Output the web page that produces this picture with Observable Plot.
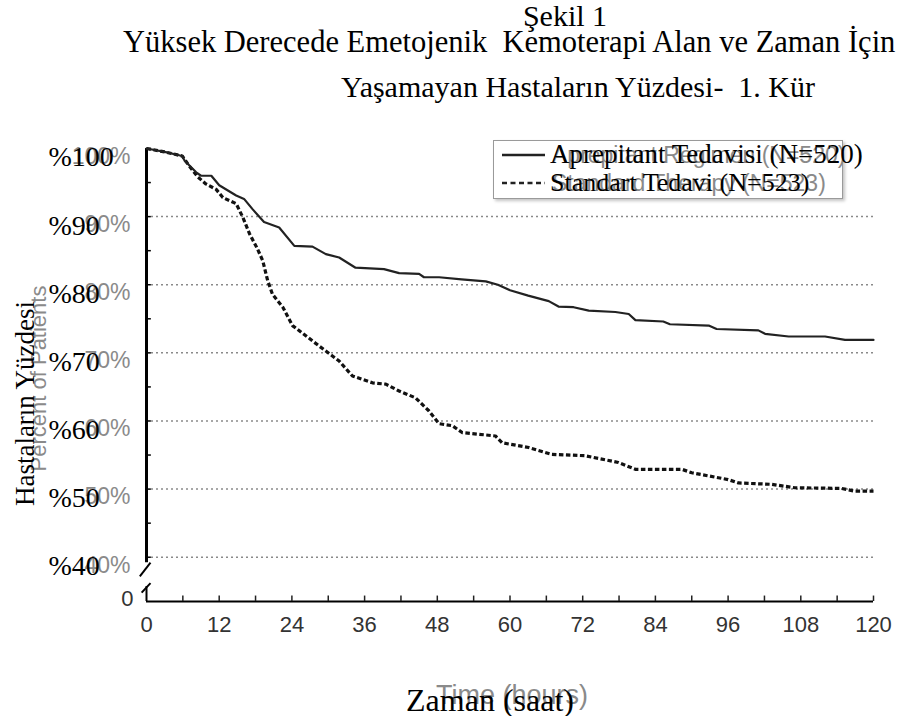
<!DOCTYPE html>
<html><head><meta charset="utf-8">
<script src="https://cdn.jsdelivr.net/npm/d3@7"></script>
<script src="https://cdn.jsdelivr.net/npm/@observablehq/plot@0.6"></script>
<style>
html,body{margin:0;padding:0;background:#fff;overflow:hidden;width:897px;height:716px}
#wrap{position:relative;width:897px;height:716px;overflow:hidden;background:#fff}
#wrap svg.plot{position:absolute;left:0;top:0}
.t{position:absolute;white-space:pre;line-height:1;margin:0}
.serif{font-family:"Liberation Serif","Times New Roman",serif;color:#000}
.sans{font-family:"Liberation Sans",Arial,sans-serif;color:#8a8a8a}
</style></head><body><div id="wrap"></div>
<script>
// ---- data ----
const titleLines = ["Şekil 1", "Yüksek Derecede Emetojenik  Kemoterapi Alan ve Zaman İçin", "Yaşamayan Hastaların Yüzdesi-  1. Kür"];
const seriesNames = ["Aprepitant Tedavisi (N=520)", "Standart Tedavi (N=523)"];
const seriesNamesEn = ["Aprepitant Regimen (N=520)", "Standard Therapy (N=523)"];
const xTitle = "Zaman (saat)";
const xTitleEn = "Time (hours)";
const yTitle = "Hastaların Yüzdesi";
const yTitleEn = "Percent of Patients";

const xTicks = [0, 12, 24, 36, 48, 60, 72, 84, 96, 108, 120];
const xMinorTicks = [6, 12, 18, 24, 30, 36, 42, 48, 54, 60, 66, 72, 78, 84, 90, 96, 102, 108, 114, 120];
const yTicks = [100, 90, 80, 70, 60, 50, 40];
const yTickLabels = ["%100", "%90", "%80", "%70", "%60", "%50", "%40"];
const yTickLabelsEn = ["100%", "90%", "80%", "70%", "60%", "50%", "40%"];
const yMinorTicks = [100, 95, 90, 85, 80, 75, 70, 65, 60, 55, 50, 45, 40];
const gridValues = [90, 80, 70, 60, 50, 40];
const yBottomLabel = "0";

const aprepHours = [0, 3, 5.9, 6.3, 8.2, 9.0, 10.7, 12.0, 14.8, 16.1, 17.5, 19.4, 21.9, 24.4, 27.4, 29.6, 31.8, 34.5, 39.2, 41.7, 45.0, 45.8, 48.3, 52, 56, 58, 60, 63, 66.4, 68.0, 70.5, 73.0, 77.4, 79.6, 80.7, 85.3, 86.4, 92.8, 94.1, 101.0, 102.1, 106.0, 112.0, 115.3, 120];
const aprepPct   = [100, 99.5, 98.9, 98.2, 96.5, 96.0, 96.0, 94.6, 93.1, 92.6, 91.1, 89.2, 88.4, 85.7, 85.6, 84.5, 84.0, 82.5, 82.3, 81.7, 81.6, 81.1, 81.1, 80.8, 80.5, 80.0, 79.2, 78.4, 77.6, 76.8, 76.7, 76.2, 76.0, 75.7, 74.8, 74.6, 74.2, 74.0, 73.5, 73.3, 72.8, 72.4, 72.4, 71.9, 71.9];

const stdHours = [0, 3, 5.9, 7.0, 8.5, 9.8, 11.5, 12.6, 14.8, 15.9, 17.0, 18.3, 19.2, 20.0, 20.8, 22.5, 24.1, 26.3, 28.5, 31.8, 34.0, 37.3, 39.5, 41.7, 44.4, 46.6, 48.3, 50.5, 52.1, 57.6, 58.7, 63.1, 66.9, 72.4, 77.9, 80.7, 88.4, 90.0, 96.0, 97.7, 103.2, 107.0, 114.7, 116.9, 120];
const stdPct   = [100, 99.5, 98.9, 97.5, 95.8, 94.8, 94.0, 92.8, 91.9, 89.9, 87.5, 85.3, 83.5, 80.6, 78.6, 76.7, 74.0, 72.5, 71.0, 68.8, 66.6, 65.6, 65.4, 64.4, 63.4, 61.5, 59.6, 59.3, 58.3, 57.8, 56.8, 56.1, 55.1, 54.9, 53.9, 52.9, 52.9, 52.4, 51.4, 50.9, 50.7, 50.2, 50.1, 49.7, 49.7];

// ---- build ----
const aprep = aprepHours.map((h, i) => ({h, v: aprepPct[i]}));
const std = stdHours.map((h, i) => ({h, v: stdPct[i]}));
const yLab = yTicks.map((v, i) => ({v, tr: yTickLabels[i], en: yTickLabelsEn[i]}));

const SERIF = "Liberation Serif, Times New Roman, serif";
const SANS = "Liberation Sans, Arial, sans-serif";

const chart = Plot.plot({
  width: 897, height: 716,
  marginTop: 148, marginBottom: 115, marginLeft: 146, marginRight: 24,
  x: {domain: [0, 120], axis: null},
  y: {domain: [33.5, 100], axis: null},
  style: {background: "transparent", overflow: "visible"},
  marks: [
    Plot.ruleY(gridValues, {x1: 0, x2: 120, stroke: "#8a8a8a", strokeWidth: 1.5, strokeDasharray: "2,3"}),
    // y axis with break
    Plot.ruleX([0], {y1: 39.2, y2: 100, stroke: "#000", strokeWidth: 3}),
    Plot.ruleY(yMinorTicks, {x1: 0, x2: 0.8, stroke: "#000", strokeWidth: 1.5}),
    Plot.link([{a: 0.66, b: 39.2, c: -1.1, d: 37.2}, {a: 0.66, b: 36.2, c: -0.8, d: 34.8}],
      {x1: "a", y1: "b", x2: "c", y2: "d", stroke: "#000", strokeWidth: 2}),
    Plot.ruleX([0], {y1: 33.5, y2: 35.7, stroke: "#000", strokeWidth: 2}),
    // x axis
    Plot.ruleY([33.5], {x1: 0, x2: 120, stroke: "#000", strokeWidth: 1.8}),
    Plot.ruleX(xMinorTicks, {y1: 33.5, y2: 34.3, stroke: "#222", strokeWidth: 1.5}),
    Plot.text(xTicks, {x: d => d, frameAnchor: "bottom", dy: 30, text: d => String(d), fontFamily: SANS, fontSize: 22, fill: "#333"}),
    Plot.text([yBottomLabel], {frameAnchor: "bottom-left", dx: -13, dy: 4, textAnchor: "end", fontFamily: SANS, fontSize: 22, fill: "#333"}),
    // y tick labels (ghost english + turkish)
    Plot.text(yLab, {y: "v", text: "en", frameAnchor: "left", dx: -16, dy: 8, textAnchor: "end", fontFamily: SANS, fontSize: 23, fill: "#8a8a8a"}),
    Plot.text(yLab, {y: "v", text: "tr", frameAnchor: "left", dx: -98, dy: 9, textAnchor: "start", fontFamily: SERIF, fontSize: 28, fill: "#000"}),
    // axis titles
    Plot.text([yTitleEn], {frameAnchor: "left", dx: 45 - 146, dy: 3.5, rotate: -90, textAnchor: "middle", lineAnchor: "bottom", fontFamily: SANS, fontSize: 22, fill: "#8a8a8a"}),
    Plot.text([yTitle], {frameAnchor: "left", dx: 33 - 146, dy: 28.5, rotate: -90, textAnchor: "middle", lineAnchor: "bottom", fontFamily: SERIF, fontSize: 27, fill: "#000"}),
    Plot.text([xTitleEn], {frameAnchor: "bottom", dx: 2, dy: 102, textAnchor: "middle", lineAnchor: "bottom", fontFamily: SANS, fontSize: 27, fill: "#8a8a8a"}),
    Plot.text([xTitle], {frameAnchor: "bottom", dx: -20, dy: 109, textAnchor: "middle", lineAnchor: "bottom", fontFamily: SERIF, fontSize: 32, fill: "#000"}),
    // curves
    Plot.line(std, {x: "h", y: "v", stroke: "#111", strokeWidth: 3.2, strokeDasharray: "4.5,2.5", strokeLinecap: "butt", strokeLinejoin: "miter"}),
    Plot.line(aprep, {x: "h", y: "v", stroke: "#222", strokeWidth: 2.2})
  ]
});
chart.classList.add("plot");
const wrap = document.getElementById("wrap");
wrap.appendChild(chart);

function addDiv(cls, text, css) {
  const d = document.createElement("div");
  d.className = "t " + cls;
  d.textContent = text;
  Object.assign(d.style, css);
  wrap.appendChild(d);
  return d;
}
// title
addDiv("serif", titleLines[0], {left: "265px", width: "600px", textAlign: "center", top: "1px", fontSize: "30px"});
addDiv("serif", titleLines[1], {left: "123px", top: "27px", fontSize: "30.5px"});
addDiv("serif", titleLines[2], {left: "278px", width: "600px", textAlign: "center", top: "72px", fontSize: "30px"});

// legend box
const box = document.createElement("div");
Object.assign(box.style, {position: "absolute", left: "493px", top: "140px", width: "348px", height: "57px",
  border: "1.5px solid #9a9a9a", boxShadow: "2px 2px 3px #c4c4c4", background: "#fff"});
wrap.appendChild(box);
const ns = "http://www.w3.org/2000/svg";
const ls = document.createElementNS(ns, "svg");
ls.setAttribute("width", "60"); ls.setAttribute("height", "50");
Object.assign(ls.style, {position: "absolute", left: "495px", top: "145px"});
ls.innerHTML = '<line x1="7" x2="50" y1="10" y2="10" stroke="#222" stroke-width="2.5"/>' +
  '<line x1="7" x2="50" y1="38" y2="38" stroke="#222" stroke-width="2.5" stroke-dasharray="5,3.5"/>';
wrap.appendChild(ls);
addDiv("sans", seriesNamesEn[0], {left: "552px", top: "143.5px", fontSize: "23px"});
addDiv("sans", seriesNamesEn[1], {left: "552px", top: "172.2px", fontSize: "23px"});
addDiv("serif", seriesNames[0], {left: "550px", top: "141.2px", fontSize: "27px"});
addDiv("serif", seriesNames[1], {left: "550px", top: "169.9px", fontSize: "26px"});
</script></body></html>
